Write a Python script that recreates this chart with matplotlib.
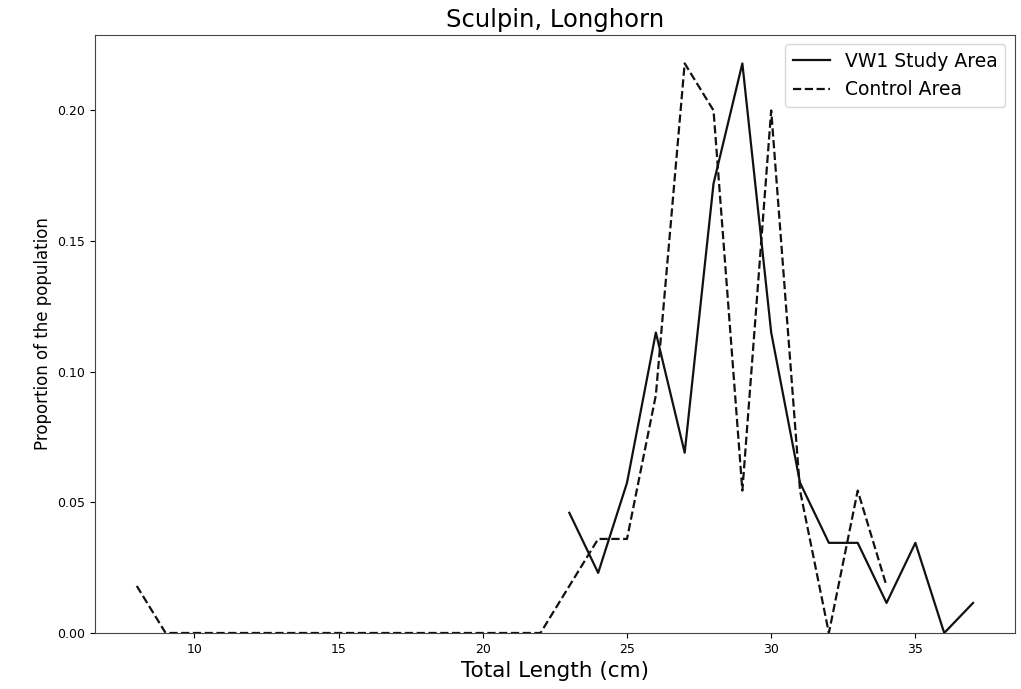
import numpy as np
import matplotlib
matplotlib.use('Agg')
import matplotlib.pyplot as plt

# lengths (cm) and proportions of the population
study_len = [23, 24, 25, 26, 27, 28, 29, 30, 31, 32, 33, 34, 35, 36, 37]
study_prop = [0.046, 0.023, 0.0575, 0.115, 0.069, 0.172, 0.218, 0.115,
              0.0575, 0.0345, 0.0345, 0.0115, 0.0345, 0.0, 0.0115]

control_len = [8, 9, 10, 11, 12, 13, 14, 15, 16, 17, 18, 19, 20, 21, 22,
               23, 24, 25, 26, 27, 28, 29, 30, 31, 32, 33, 34]
control_prop = [0.018, 0, 0, 0, 0, 0, 0, 0, 0, 0, 0, 0, 0, 0, 0,
                0.018, 0.036, 0.036, 0.091, 0.218, 0.2, 0.0545, 0.2,
                0.0545, 0.0, 0.0545, 0.018]

fig = plt.figure(figsize=(10.21, 6.89), dpi=100)
ax = fig.add_axes([0.093, 0.0813, 0.901, 0.868])

ax.plot(study_len, study_prop, color='#111111', linestyle='-', lw=1.6, label='VW1 Study Area')
ax.plot(control_len, control_prop, color='#111111', linestyle='--', lw=1.6, label='Control Area')

ax.set_ylim(bottom=0)
ax.set_title('Sculpin, Longhorn', fontsize=17.5)
ax.set_xlabel('Total Length (cm)', fontsize=15.5)
ax.set_ylabel('Proportion of the population', fontsize=12)
ax.tick_params(labelsize=9)
for s in ax.spines.values():
    s.set_color('#444444')
ax.legend(fontsize=13.5)

fig.savefig('out.png', dpi=100)
